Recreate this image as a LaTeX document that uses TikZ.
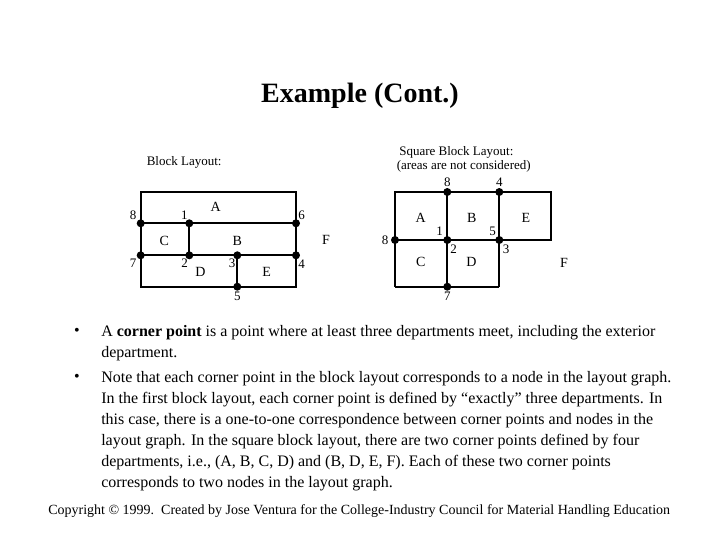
\documentclass[tikz,border=0pt]{standalone}
\usepackage{fontspec}
\setmainfont{Liberation Serif}
\begin{document}
\begin{tikzpicture}[x=0.75pt,y=-0.75pt,
  wall/.style={line width=1.5pt},
  dot/.style={circle,fill=black,inner sep=0pt,minimum size=6pt},
  lbl/.style={inner sep=0pt,font=\fontsize{9.75}{11}\selectfont},
  dept/.style={inner sep=0pt,font=\fontsize{10.5}{12}\selectfont},
  captxt/.style={inner sep=0pt,font=\fontsize{9.75}{11.5}\selectfont},
  body/.style={inner sep=0pt,anchor=base west,font=\fontsize{12}{15.75}\selectfont},
  bul/.style={inner sep=0pt,font=\fontsize{12}{14}\selectfont}]
\useasboundingbox[fill=white] (0,0) rectangle (720,540);

% title
\node[inner sep=0pt,font=\fontsize{21}{25}\selectfont\bfseries] (title) at (360,96) {Example (Cont.)};

% ---------- left block layout ----------
\node[captxt,anchor=west] (bl) at (146.5,162.7) {Block Layout:};
\coordinate (TL) at (140.7,191.7);
\coordinate (BR) at (296,286.7);
\coordinate (p8) at (140.7,223.3);
\coordinate (p1) at (189.3,223.3);
\coordinate (p6) at (296,223.3);
\coordinate (p7) at (140.7,255.3);
\coordinate (p2) at (189.3,255.3);
\coordinate (p3) at (237.3,255.3);
\coordinate (p4) at (296,255.3);
\coordinate (p5) at (237.3,286.7);
\draw[wall] (TL) rectangle (BR);
\draw[wall] (p8) -- (p6);
\draw[wall] (p7) -- (p4);
\draw[wall] (p1) -- (p2);
\draw[wall] (p3) -- (p5);
\foreach \p in {p8,p1,p6,p7,p2,p3,p4,p5} \node[dot] at (\p) {};
\node[lbl] (n8) at (133,215.5) {8};
\node[lbl] (n1) at (184.3,215.5) {1};
\node[lbl] (n6) at (301.5,215.5) {6};
\node[lbl] (n7) at (133,263.5) {7};
\node[lbl] (n2) at (184.5,263.5) {2};
\node[lbl] (n3) at (232,263.5) {3};
\node[lbl] (n4) at (301.7,264) {4};
\node[lbl] (n5) at (237.3,296) {5};
\node[dept] (dA) at (215.7,207) {A};
\node[dept] (dC) at (164.3,241) {C};
\node[dept] (dB) at (237.3,241) {B};
\node[dept] (dF) at (326,240) {F};
\node[dept] (dD) at (200.5,272.3) {D};
\node[dept] (dE) at (266.7,272.3) {E};

% ---------- right square block layout ----------
\node[captxt,anchor=west] (sq1) at (399,152) {Square Block Layout:};
\node[captxt,anchor=west] (sq2) at (396.5,166.7) {(areas are not considered)};
\coordinate (q00) at (395,192);
\coordinate (q10) at (447.3,192);
\coordinate (q20) at (499.3,192);
\coordinate (q30) at (550.7,192);
\coordinate (q01) at (395,240);
\coordinate (q11) at (447.3,240);
\coordinate (q21) at (499.3,240);
\coordinate (q31) at (550.7,240);
\coordinate (q02) at (395,286.7);
\coordinate (q12) at (447.3,286.7);
\coordinate (q22) at (499.3,286.7);
\draw[wall] (q02) -- (q00) -- (q30) -- (q31) -- (q01);
\draw[wall] (q02) -- (q22);
\draw[wall] (q10) -- (q12);
\draw[wall] (q20) -- (q22);
\foreach \p in {q10,q20,q01,q11,q21,q12} \node[dot] at (\p) {};
\node[lbl] (m8a) at (447.3,182.7) {8};
\node[lbl] (m4) at (499.3,182.7) {4};
\node[lbl] (m8b) at (385,240) {8};
\node[lbl] (m1) at (439.5,231.5) {1};
\node[lbl] (m2) at (453.5,249) {2};
\node[lbl] (m5) at (492.7,231) {5};
\node[lbl] (m3) at (506,249) {3};
\node[lbl] (m7) at (447.3,296.5) {7};
\node[dept] (eA) at (420.7,217.5) {A};
\node[dept] (eB) at (471.7,217.5) {B};
\node[dept] (eE) at (526,217.5) {E};
\node[dept] (eC) at (420.7,262) {C};
\node[dept] (eD) at (471.5,262) {D};
\node[dept] (eF) at (564,263) {F};

% ---------- text ----------
\node[bul] (b1) at (77,332) {\textbullet};
\node[bul] (b2) at (77,378) {\textbullet};
\node[body] (t1) at (101,336) {A \textbf{corner point} is a point where at least three departments meet, including the exterior};
\node[body] (t2) at (101,357) {department.};
\node[body] (t3) at (101,382) {Note that each corner point in the block layout corresponds to a node in the layout graph.};
\node[body] (t4) at (101,403) {In the first block layout, each corner point is defined by “exactly” three departments. In};
\node[body] (t5) at (101,424) {this case, there is a one-to-one correspondence between corner points and nodes in the};
\node[body] (t6) at (101,445) {layout graph. In the square block layout, there are two corner points defined by four};
\node[body] (t7) at (101,466) {departments, i.e., (A, B, C, D) and (B, D, E, F). Each of these two corner points};
\node[body] (t8) at (101,487) {corresponds to two nodes in the layout graph.};
\node[inner sep=0pt,anchor=base west,font=\fontsize{10.5}{12}\selectfont] (copy) at (48,514) {Copyright © 1999.\ \ Created by Jose Ventura for the College-Industry Council for Material Handling Education};
\end{tikzpicture}
\end{document}
